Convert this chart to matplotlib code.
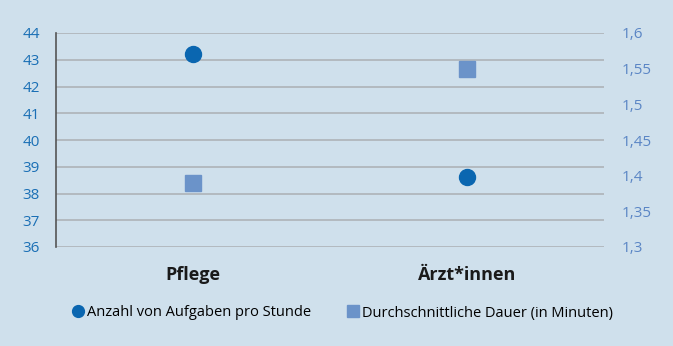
import matplotlib.pyplot as plt
from matplotlib.lines import Line2D

categories = ["Pflege", "Ärzt*innen"]
aufgaben = [43.2, 38.6]
dauer = [1.39, 1.55]
left_ticks = [36, 37, 38, 39, 40, 41, 42, 43, 44]
right_ticks = [1.3, 1.35, 1.4, 1.45, 1.5, 1.55, 1.6]

bg = "#cfe0ec"
c_circle = "#0a66b0"
c_square = "#6b93c9"

plt.rcParams['font.family'] = ['Open Sans', 'DejaVu Sans']

fig = plt.figure(figsize=(6.73, 3.46), dpi=100, facecolor=bg)
ax = fig.add_axes([56 / 673, 1 - 247 / 346, 548 / 673, 214 / 346])
ax.set_facecolor(bg)
ax2 = ax.twinx()

x = list(range(len(categories)))
ax.plot(x, aufgaben, 'o', color=c_circle, markersize=11.5, zorder=5)
ax2.plot(x, dauer, 's', color=c_square, markersize=11, zorder=5)

ax.set_xlim(-0.5, 1.5)
ax.set_ylim(36, 44)
ax.set_yticks(left_ticks)
ax.set_yticklabels([str(t) for t in left_ticks], color="#1a6fb5", fontsize=11)
ax2.set_ylim(1.3, 1.6)
ax2.set_yticks(right_ticks)
ax2.set_yticklabels([("%g" % t).replace(".", ",") for t in right_ticks],
                    color="#5b86c5", fontsize=11)

ax.set_xticks(x)
ax.set_xticklabels(categories, fontsize=13, fontweight='bold', color="#1a1a1a")
ax.tick_params(axis='x', length=0, pad=13.5)
ax.tick_params(axis='y', length=0, pad=11.5)
ax2.tick_params(axis='y', length=0, pad=13)

ax.grid(axis='y', color="#aeb3b8", linewidth=1.2)
ax.set_axisbelow(True)
for s in ["top", "right", "bottom"]:
    ax.spines[s].set_visible(False)
    ax2.spines[s].set_visible(False)
ax2.spines["left"].set_visible(False)
ax.spines["left"].set_color("#555555")
ax.spines["left"].set_linewidth(1.2)

handles = [
    Line2D([], [], marker='o', linestyle='', color=c_circle, markersize=8.5),
    Line2D([], [], marker='s', linestyle='', color=c_square, markersize=8.5),
]
fig.legend(handles, ["Anzahl von Aufgaben pro Stunde", "Durchschnittliche Dauer (in Minuten)"],
           loc='center', bbox_to_anchor=(0.508, 1 - 313 / 346), ncol=2, frameon=False,
           fontsize=10.5, handletextpad=0.1, columnspacing=2.4, handlelength=1.0)

fig.savefig("out.png", dpi=100, facecolor=bg)
